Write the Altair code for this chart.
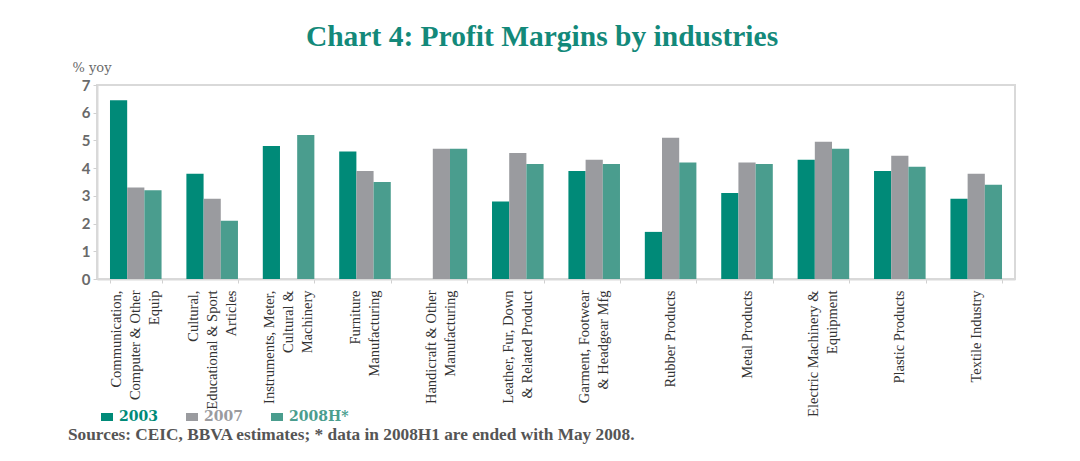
import altair as alt
import pandas as pd

# ---- data ----
categories = [
    "Communication,|Computer & Other|Equip",
    "Cultural,|Educational & Sport|Articles",
    "Instruments, Meter,|Cultural &|Machinery",
    "Furniture|Manufacturing",
    "Handicraft & Other|Manufacturing",
    "Leather, Fur, Down|& Related Product",
    "Garment, Footwear|& Headgear Mfg",
    "Rubber Products",
    "Metal Products",
    "Electric Machinery &|Equipment",
    "Plastic Products",
    "Textile Industry",
]
years = ["2003", "2007", "2008H*"]
v2003 = [6.45, 3.8, 4.8, 4.6, None, 2.8, 3.9, 1.7, 3.1, 4.3, 3.9, 2.9]
v2007 = [3.3, 2.9, None, 3.9, 4.7, 4.55, 4.3, 5.1, 4.2, 4.95, 4.45, 3.8]
v2008 = [3.2, 2.1, 5.2, 3.5, 4.7, 4.15, 4.15, 4.2, 4.15, 4.7, 4.05, 3.4]
colors = ["#008a78", "#9a9b9f", "#4a9d8e"]
title_text = "Chart 4: Profit Margins by industries"
footnote = "Sources: CEIC, BBVA estimates; * data in 2008H1 are ended with May 2008."

rows = []
for series, vals in zip(years, [v2003, v2007, v2008]):
    for c, v in zip(categories, vals):
        if v is not None:
            rows.append({"industry": c, "year": series, "value": v})
df = pd.DataFrame(rows)

label_color_expr = (
    "datum.label == '2003' ? '%s' : datum.label == '2007' ? '%s' : '%s'"
    % (colors[0], colors[1], colors[2])
)
LINE_H = 19

bars = alt.Chart(df).mark_bar().encode(
    x=alt.X(
        "industry:N",
        sort=categories,
        scale=alt.Scale(paddingInner=0.325, paddingOuter=0.17),
        axis=alt.Axis(
            title=None,
            labelAngle=-90,
            labelAlign="right",
            labelBaseline="middle",
            labelExpr="split(datum.label, '|')",
            labelOffset=alt.ExprRef(
                "-(length(split(datum.label, '|')) - 1) * %g" % (LINE_H / 2)
            ),
            labelFont="Liberation Serif",
            labelFontSize=14.5,
            labelLineHeight=LINE_H,
            labelColor="#333333",
            labelPadding=7,
            labelLimit=300,
            tickBand="extent",
            tickSize=4,
            tickColor="#d0d0d0",
            domainColor="#d9d9d9",
            domainWidth=2,
        ),
    ),
    xOffset=alt.XOffset("year:N", sort=years, scale=alt.Scale(domain=years, paddingInner=0, paddingOuter=0)),
    y=alt.Y(
        "value:Q",
        scale=alt.Scale(domain=[0, 7], nice=False),
        axis=alt.Axis(
            title="% yoy",
            titleAngle=0,
            titleX=-25,
            titleY=-14,
            titleAlign="left",
            titleBaseline="alphabetic",
            titleFont="DejaVu Serif",
            titleFontSize=13,
            titleFontWeight="normal",
            titleColor="#6a6a6a",
            values=[0, 1, 2, 3, 4, 5, 6, 7],
            grid=False,
            labelFont="Lato",
            labelFontSize=15,
            labelFontWeight="bold",
            labelColor="#6a6a6a",
            labelPadding=3,
            tickSize=4,
            tickColor="#d0d0d0",
            domainColor="#d9d9d9",
            domainWidth=2,
        ),
    ),
    color=alt.Color(
        "year:N",
        sort=years,
        scale=alt.Scale(domain=years, range=colors),
        legend=alt.Legend(
            title=None,
            orient="none",
            legendX=3,
            legendY=325,
            direction="horizontal",
            symbolType="M-1,-0.667H1V0.667H-1Z",
            symbolSize=144,
            symbolStrokeWidth=0,
            symbolOpacity=1,
            labelFont="DejaVu Serif",
            labelFontSize=14,
            labelFontWeight="bold",
            labelColor=alt.ExprRef(label_color_expr),
            labelOffset=5,
            columnPadding=27,
        ),
    ),
)

note = alt.Chart(pd.DataFrame({"t": [footnote]})).mark_text(
    align="left",
    baseline="alphabetic",
    font="Liberation Serif",
    fontSize=17.3,
    fontWeight="bold",
    color="#555555",
).encode(x=alt.value(-29), y=alt.value(355), text="t:N")

chart = (
    alt.layer(bars, note)
    .properties(
        width=918,
        height=194,
        autosize=alt.AutoSizeParams(type="none"),
        padding={"left": 89, "top": 77, "right": 57, "bottom": 174},
        background="white",
        title=alt.TitleParams(
            title_text,
            anchor="middle",
            frame="group",
            dx=-14,
            offset=9,
            font="Liberation Serif",
            fontSize=29.5,
            fontWeight="bold",
            color="#13897a",
        ),
    )
    .configure_view(stroke="#d9d9d9", strokeWidth=2)
)

chart.save("out.html", embed_options={"renderer": "svg", "actions": False})
